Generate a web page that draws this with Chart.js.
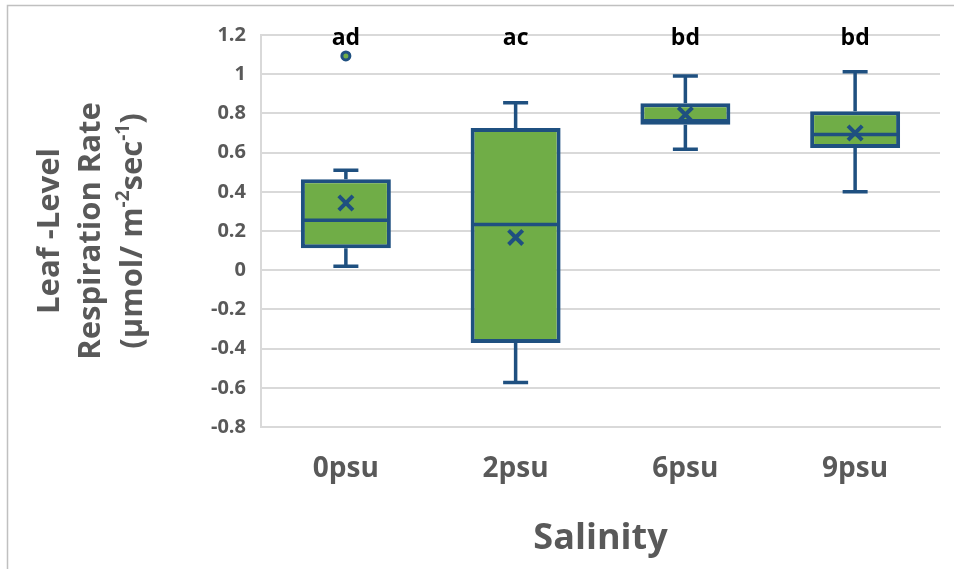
<!DOCTYPE html>
<html>
<head>
<meta charset="utf-8">
<script src="https://cdn.jsdelivr.net/npm/chart.js@4.4.1/dist/chart.umd.min.js"></script>
<style>
html,body{margin:0;padding:0;background:#fff;}
#wrap{position:relative;width:954px;height:569px;}
</style>
</head>
<body>
<div id="wrap"><canvas id="c" width="954" height="569"></canvas></div>
<script>
// ---- data ----
const categories = ['0psu', '2psu', '6psu', '9psu'];
const whiskerMin = [0.02, -0.573, 0.617, 0.40];
const q1 = [0.112, -0.371, 0.742, 0.624];
const median = [0.255, 0.233, 0.762, 0.692];
const q3 = [0.464, 0.726, 0.852, 0.811];
const whiskerMax = [0.51, 0.854, 0.991, 1.012];
const mean = [0.343, 0.167, 0.794, 0.700];
const outliers = [1.093, null, null, null];
const sigLetters = ['ad', 'ac', 'bd', 'bd'];
const yTicks = [-0.8, -0.6, -0.4, -0.2, 0, 0.2, 0.4, 0.6, 0.8, 1, 1.2];
// y title lines; each line is a list of [text, isSuperscript] parts
const yTitleLines = [
  [['Leaf -Level', false]],
  [['Respiration Rate', false]],
  [['(\u00b5mol/ m', false], ['-2', true], ['sec', false], ['-1', true], [')', false]]
];
const xTitle = 'Salinity';

const GREEN = '#70AD47';
const BLUE = '#1F5080';
const GRAY = '#595959';
const GRID = '#d9d9d9';
const FONT = "'Open Sans', 'DejaVu Sans', sans-serif";

const frame = {
  id: 'frame',
  beforeDraw(chart) {
    const ctx = chart.ctx;
    ctx.save();
    ctx.strokeStyle = '#c0c0c0';
    ctx.lineWidth = 1.5;
    ctx.beginPath();
    ctx.moveTo(7.5, 569);
    ctx.lineTo(7.5, 5.5);
    ctx.lineTo(954, 5.5);
    ctx.stroke();
    ctx.restore();
  }
};

const yTitlePlugin = {
  id: 'yTitlePlugin',
  afterDraw(chart) {
    const ctx = chart.ctx;
    const area = chart.chartArea;
    const cy = (area.top + area.bottom) / 2;
    const size = 31, supSize = 19, lineGap = 41.5, firstX = 50;
    ctx.save();
    ctx.fillStyle = GRAY;
    ctx.textBaseline = 'middle';
    ctx.textAlign = 'left';
    yTitleLines.forEach((parts, li) => {
      let total = 0;
      parts.forEach(([t, sup]) => {
        ctx.font = 'bold ' + (sup ? supSize : size) + 'px ' + FONT;
        total += ctx.measureText(t).width;
      });
      ctx.save();
      ctx.translate(firstX + li * lineGap, cy);
      ctx.rotate(-Math.PI / 2);
      let x = -total / 2;
      parts.forEach(([t, sup]) => {
        ctx.font = 'bold ' + (sup ? supSize : size) + 'px ' + FONT;
        ctx.fillText(t, x, sup ? -9 : 0);
        x += ctx.measureText(t).width;
      });
      ctx.restore();
    });
    ctx.restore();
  }
};

const boxExtras = {
  id: 'boxExtras',
  afterDatasetsDraw(chart) {
    const ctx = chart.ctx;
    const xs = chart.scales.x, ys = chart.scales.y;
    const meta = chart.getDatasetMeta(0);
    ctx.save();
    ctx.strokeStyle = BLUE;
    ctx.lineWidth = 3.5;
    ctx.lineCap = 'butt';
    categories.forEach((c, i) => {
      const cx = xs.getPixelForValue(i);
      const bar = meta.data[i];
      const half = bar.width / 2;
      const cap = 12.5;
      const yq1 = ys.getPixelForValue(q1[i]);
      const yq3 = ys.getPixelForValue(q3[i]);
      const ymin = ys.getPixelForValue(whiskerMin[i]);
      const ymax = ys.getPixelForValue(whiskerMax[i]);
      const ymed = ys.getPixelForValue(median[i]);
      ctx.beginPath();
      ctx.moveTo(cx, yq3); ctx.lineTo(cx, ymax);
      ctx.moveTo(cx - cap, ymax); ctx.lineTo(cx + cap, ymax);
      ctx.moveTo(cx, yq1); ctx.lineTo(cx, ymin);
      ctx.moveTo(cx - cap, ymin); ctx.lineTo(cx + cap, ymin);
      ctx.moveTo(cx - half + 2, ymed); ctx.lineTo(cx + half - 2, ymed);
      ctx.stroke();
    });
    ctx.restore();
  },
  afterDraw(chart) {
    const ctx = chart.ctx;
    const xs = chart.scales.x;
    ctx.save();
    ctx.fillStyle = '#000';
    ctx.font = "bold 23px " + FONT;
    ctx.textAlign = 'center';
    ctx.textBaseline = 'alphabetic';
    sigLetters.forEach((t, i) => {
      ctx.fillText(t, xs.getPixelForValue(i), 45);
    });
    ctx.restore();
  }
};

new Chart(document.getElementById('c'), {
  data: {
    labels: categories,
    datasets: [
      {
        type: 'bar',
        data: categories.map((c, i) => [q1[i], q3[i]]),
        backgroundColor: GREEN,
        borderColor: BLUE,
        borderWidth: 4,
        borderSkipped: false,
        barPercentage: 0.53,
        categoryPercentage: 1.0,
        order: 2
      },
      {
        type: 'line',
        data: mean,
        showLine: false,
        pointStyle: 'crossRot',
        pointRadius: 10,
        pointBorderWidth: 4,
        pointBorderColor: BLUE,
        pointBackgroundColor: BLUE,
        order: 0
      },
      {
        type: 'line',
        data: outliers,
        showLine: false,
        pointStyle: 'circle',
        pointRadius: 4,
        pointBorderWidth: 3,
        pointBorderColor: BLUE,
        pointBackgroundColor: GREEN,
        order: 0
      }
    ]
  },
  options: {
    responsive: false,
    animation: false,
    layout: { padding: { top: 35, right: 5, left: 0, bottom: 0 } },
    plugins: { legend: { display: false }, tooltip: { enabled: false } },
    scales: {
      x: {
        grid: { display: false, drawTicks: false },
        border: { display: true, color: GRID, width: 2 },
        ticks: { color: GRAY, font: { family: FONT, size: 28, weight: 'bold' }, padding: 25 },
        title: { display: true, text: xTitle, color: GRAY, font: { family: FONT, size: 36, weight: 'bold' }, padding: { top: 0, bottom: 9 } },
        afterFit(s) { s.height = 142; }
      },
      y: {
        min: -0.8, max: 1.2,
        afterBuildTicks(s) { s.ticks = yTicks.map(v => ({ value: v })); },
        grid: { color: GRID, lineWidth: 2, drawTicks: false },
        border: { display: true, color: GRID, width: 2 },
        ticks: {
          color: GRAY, padding: 15,
          font: { family: FONT, size: 20, weight: 'bold' },
          callback: v => String(Math.round(v * 10) / 10)
        },
        afterFit(s) { s.width = 261; }
      }
    }
  },
  plugins: [frame, yTitlePlugin, boxExtras]
});
</script>
</body>
</html>
